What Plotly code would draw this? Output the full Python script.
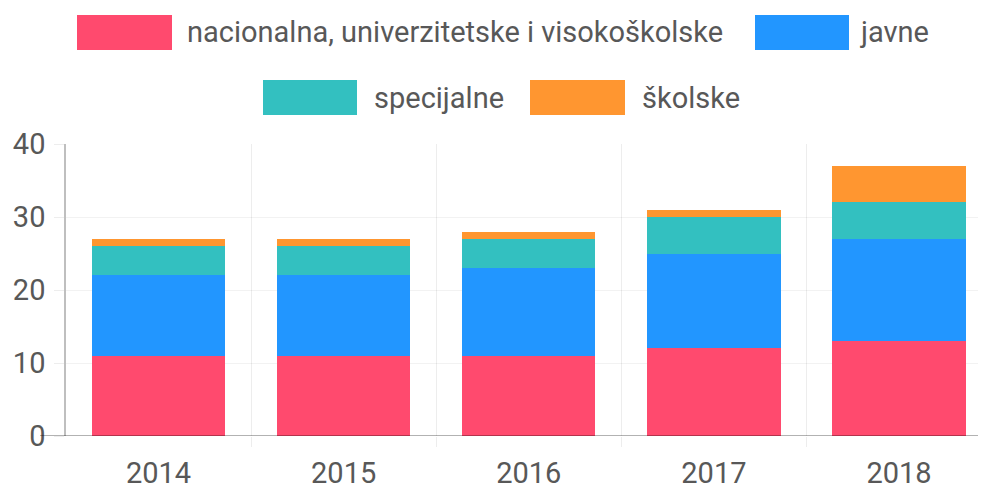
import plotly.graph_objects as go

years = ["2014", "2015", "2016", "2017", "2018"]
series_names = ["nacionalna, univerzitetske i visokoškolske", "javne", "specijalne", "školske"]
nacionalna = [11, 11, 11, 12, 13]
javne = [11, 11, 12, 13, 14]
specijalne = [4, 4, 4, 5, 5]
skolske = [1, 1, 1, 1, 5]
y_ticks = [0, 10, 20, 30, 40]

colors = ["#FF4A6E", "#2296FF", "#33C0C0", "#FF9630"]
values = [nacionalna, javne, specijalne, skolske]

# page body has an 8px default margin; work in window pixels and shift
OFF = 8
WIN_W, WIN_H = 986, 491
W, H = WIN_W - OFF, WIN_H - OFF
L, T = 66 - OFF, 144 - OFF
R = 0
B = WIN_H - 436
PW, PH = W - L - R, H - T - B

def px(x):
    return (x - OFF - L) / PW

def py(y):
    return (H - B - (y - OFF)) / PH

xpos = list(range(len(years)))
fig = go.Figure()
for name, vals, col in zip(series_names, values, colors):
    fig.add_trace(go.Bar(x=xpos, y=vals, name=name, marker=dict(color=col, line=dict(width=0)),
                         width=0.72, showlegend=False))

font_family = "Roboto, Liberation Sans, Arial, sans-serif"
tick_color = "#585858"

fig.update_layout(
    width=W, height=H, barmode="stack",
    margin=dict(l=L, r=R, t=T, b=B, autoexpand=False),
    plot_bgcolor="white", paper_bgcolor="white",
    font=dict(family=font_family, size=28, color=tick_color),
    xaxis=dict(
        range=[-0.5, 4.47], tickvals=xpos, ticktext=years, showgrid=False,
        ticks="", showline=False, zeroline=False, fixedrange=True, automargin=False,
        tickfont=dict(size=29, color=tick_color),
        minor=dict(tickvals=[0.5, 1.5, 2.5, 3.5], showgrid=True, gridcolor="rgba(0,0,0,0.07)",
                   gridwidth=1, ticks="outside", ticklen=10, tickcolor="rgba(0,0,0,0.07)"),
        ticklabelstandoff=17,
    ),
    yaxis=dict(
        range=[0, 40], tickvals=y_ticks, showgrid=True, gridcolor="rgba(0,0,0,0.05)",
        ticks="outside", ticklen=10, tickcolor="rgba(0,0,0,0.07)", automargin=False,
        showline=True, linecolor="rgba(0,0,0,0.25)", linewidth=1.5,
        zeroline=False, tickfont=dict(size=29, color=tick_color), ticklabelstandoff=3,
    ),
)

# x axis baseline
fig.add_shape(type="line", xref="paper", yref="y", x0=px(40), x1=1, y0=0, y1=0,
              line=dict(color="rgba(0,0,0,0.3)", width=2))

# custom legend (Chart.js style wide boxes)
legend_layout = [
    (77, 172, 15, 50, 185),
    (755, 849, 15, 50, 858),
    (263, 357, 80, 115, 372),
    (530, 625, 80, 115, 640),
]
for name, col, (bx0, bx1, by0, by1, tx) in zip(series_names, colors, legend_layout):
    fig.add_shape(type="rect", xref="paper", yref="paper",
                  x0=px(bx0), x1=px(bx1), y0=py(by1), y1=py(by0),
                  fillcolor=col, line=dict(width=0))
    fig.add_annotation(xref="paper", yref="paper", x=px(tx), y=py((by0 + by1) / 2),
                       text=name, showarrow=False, xanchor="left", yanchor="middle",
                       font=dict(size=29, color=tick_color, family=font_family))

fig.write_html("out.html")
